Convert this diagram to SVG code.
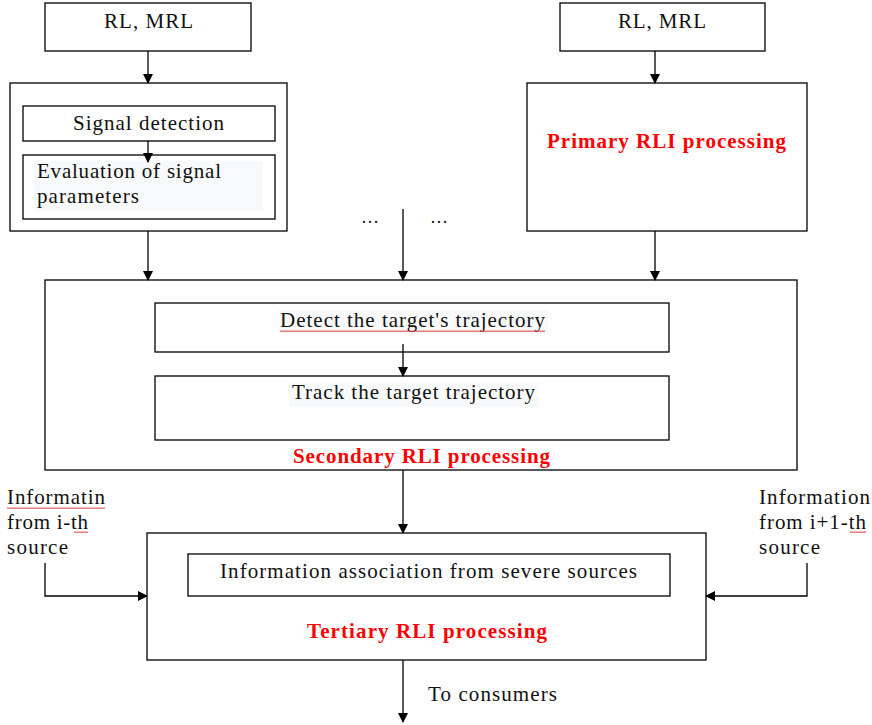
<svg xmlns="http://www.w3.org/2000/svg" width="872" height="725" viewBox="0 0 872 725">
<defs>
<marker id="ah" markerWidth="10" markerHeight="10" refX="9" refY="5" orient="auto" markerUnits="userSpaceOnUse">
<path d="M0,0 L10,5 L0,10 z" fill="#000"/>
</marker>
<pattern id="wave" width="4" height="3" patternUnits="userSpaceOnUse">
<path d="M0,2 L1,0.5 L2,2 L3,0.5 L4,2" stroke="#e04040" stroke-width="0.8" fill="none"/>
</pattern>
<style>
rect.b{fill:#fff;stroke:#000;stroke-width:1.3}
rect.hl{fill:#f8f9fa}
rect.w{fill:url(#wave)}
text{font-family:"Liberation Serif","Times New Roman",serif;font-size:21px;fill:#111}
text.r{fill:#ff0000;font-weight:bold;font-size:21px}
text.d{font-size:18px}
.c{stroke:#000;stroke-width:1.3;fill:none}
</style>
</defs>
<rect width="872" height="725" fill="#fff"/>
<g id="rl-left"><rect class="b" x="45" y="3" width="206" height="48"/><text x="104" y="28" textLength="89" lengthAdjust="spacing">RL, MRL</text></g>
<g id="rl-right"><rect class="b" x="560" y="3" width="205" height="48"/><text x="618" y="28" textLength="88" lengthAdjust="spacing">RL, MRL</text></g>
<g id="primary-left"><rect class="b" x="10" y="83" width="277" height="148"/></g>
<g id="signal-detection"><rect class="b" x="23" y="106" width="252" height="35"/><text x="73" y="130" textLength="151" lengthAdjust="spacing">Signal detection</text></g>
<g id="evaluation"><rect class="b" x="23" y="155" width="252" height="64"/><rect class="hl" x="34" y="161" width="229" height="50"/><text x="37" y="178" textLength="184" lengthAdjust="spacing">Evaluation of signal</text><text x="37" y="203" textLength="102" lengthAdjust="spacing">parameters</text></g>
<g id="primary-right"><rect class="b" x="527" y="83" width="280" height="148"/><text class="r" x="547" y="148" textLength="239" lengthAdjust="spacing">Primary RLI processing</text></g>
<g id="dots"><text class="d" x="370" y="223" text-anchor="middle">…</text><text class="d" x="439" y="223" text-anchor="middle">…</text></g>
<g id="secondary"><rect class="b" x="45" y="280" width="752" height="190"/><text class="r" x="293" y="463" textLength="257" lengthAdjust="spacing">Secondary RLI processing</text></g>
<g id="detect"><rect class="b" x="155" y="303" width="514" height="49"/><rect class="hl" x="278" y="310" width="270" height="24"/><text x="280" y="327" textLength="265" lengthAdjust="spacing">Detect the target's trajectory</text><rect class="w" x="280" y="329" width="265" height="3"/></g>
<g id="track"><rect class="b" x="155" y="376" width="514" height="64"/><rect class="hl" x="289" y="383" width="249" height="24"/><text x="292" y="399" textLength="243" lengthAdjust="spacing">Track the target trajectory</text></g>
<g id="tertiary"><rect class="b" x="147" y="533" width="559" height="127"/><text class="r" x="307" y="638" textLength="240" lengthAdjust="spacing">Tertiary RLI processing</text></g>
<g id="association"><rect class="b" x="188" y="554" width="482" height="42"/><text x="220" y="578" textLength="417" lengthAdjust="spacing">Information association from severe sources</text></g>
<g id="src-i"><text x="7" y="504" textLength="98" lengthAdjust="spacing">Informatin</text><rect class="w" x="7" y="506" width="98" height="3"/><text x="7" y="529" textLength="81" lengthAdjust="spacing">from i-th</text><rect class="w" x="74" y="531" width="14" height="3"/><text x="7" y="554" textLength="61" lengthAdjust="spacing">source</text></g>
<g id="src-i1"><text x="759" y="504" textLength="111" lengthAdjust="spacing">Information</text><text x="759" y="529" textLength="107" lengthAdjust="spacing">from i+1-th</text><rect class="w" x="850" y="531" width="16" height="3"/><text x="759" y="554" textLength="61" lengthAdjust="spacing">source</text></g>
<g id="consumers"><text x="428" y="701" textLength="129" lengthAdjust="spacing">To consumers</text></g>
<g id="connectors">
<line class="c" x1="148" y1="51" x2="148" y2="83" marker-end="url(#ah)"/>
<line class="c" x1="655" y1="51" x2="655" y2="83" marker-end="url(#ah)"/>
<line class="c" x1="148" y1="141" x2="148" y2="162" marker-end="url(#ah)"/>
<line class="c" x1="148" y1="231" x2="148" y2="280" marker-end="url(#ah)"/>
<line class="c" x1="403" y1="209" x2="403" y2="280" marker-end="url(#ah)"/>
<line class="c" x1="655" y1="231" x2="655" y2="280" marker-end="url(#ah)"/>
<line class="c" x1="403" y1="344" x2="403" y2="376" marker-end="url(#ah)"/>
<line class="c" x1="403" y1="470" x2="403" y2="533" marker-end="url(#ah)"/>
<polyline class="c" points="45,563 45,596 147,596" marker-end="url(#ah)"/>
<polyline class="c" points="807,563 807,596 706,596" marker-end="url(#ah)"/>
<line class="c" x1="403" y1="660" x2="403" y2="722" marker-end="url(#ah)"/>
</g>
</svg>
